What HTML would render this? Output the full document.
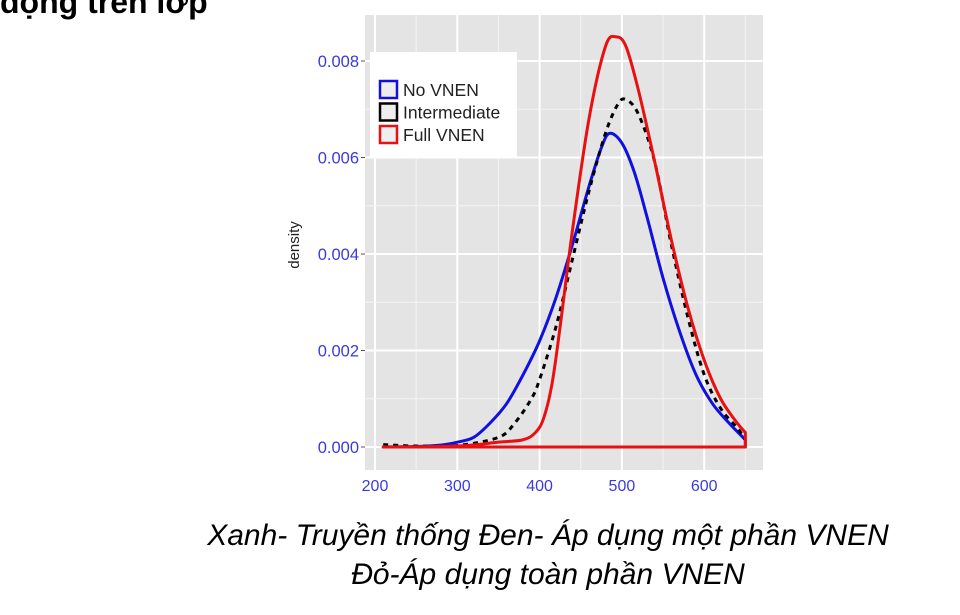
<!DOCTYPE html>
<html><head><meta charset="utf-8">
<style>
body{margin:0;background:#fff;width:960px;height:615px;overflow:hidden;position:relative;font-family:"Liberation Sans",sans-serif}
#title{position:absolute;left:0;top:-16px;font:bold 32px "Liberation Sans",sans-serif;color:#000;white-space:nowrap}
.cap{position:absolute;left:0;width:1096px;text-align:center;font:italic 30px "Liberation Sans",sans-serif;color:#000;white-space:nowrap}
</style></head><body>
<div id="title">động trên lớp</div>
<svg id="chart" width="960" height="615" style="position:absolute;left:0;top:0"></svg>
<div class="cap" style="top:519px">Xanh- Truyền thống Đen- Áp dụng một phần VNEN</div>
<div class="cap" style="top:558px">Đỏ-Áp dụng toàn phần VNEN</div>
<script>
const xTicks=[200,300,400,500,600];
const yTicks=[0,0.002,0.004,0.006,0.008];
const yTickLabels=["0.000","0.002","0.004","0.006","0.008"];
const blueX=[210,250,280,300,320,340,360,380,400,420,440,460,475,485,500,515,530,550,570,590,610,630,650];
const blueY=[0,0.00001,0.00004,0.0001,0.0002,0.0005,0.0009,0.0015,0.0022,0.0031,0.0042,0.0054,0.0062,0.0065,0.0063,0.0057,0.0048,0.0035,0.0024,0.0015,0.0009,0.0005,0.00015];
const blackX=[210,250,300,350,370,390,400,420,440,460,480,495,505,520,540,560,580,600,620,640,650];
const blackY=[0.00005,0.00002,0.00003,0.0002,0.0005,0.001,0.0014,0.0025,0.0039,0.0053,0.0065,0.0071,0.0072,0.0069,0.0059,0.0042,0.0027,0.0015,0.0008,0.0004,0.00015];
const redX=[210,300,350,380,395,405,415,425,440,460,480,493,505,520,540,560,580,600,620,640,650];
const redY=[0,0.00002,0.0001,0.00015,0.0003,0.0006,0.0013,0.0025,0.0045,0.0068,0.0083,0.0085,0.0083,0.0074,0.0059,0.0043,0.0029,0.0018,0.001,0.0005,0.0003];
const legendLabels=["No VNEN","Intermediate","Full VNEN"];
const legendColors=["#1010e0","#000","#e81010"];

const NS="http://www.w3.org/2000/svg";
const svg=document.getElementById('chart');
const X0=365,X1=763,Y0=15,Y1=470;
const xs=v=>375+(v-200)*0.823;
const ys=v=>447-v*48250;
function mk(t,a,p){const e=document.createElementNS(NS,t);for(const k in a)e.setAttribute(k,a[k]);(p||svg).appendChild(e);return e;}
const panel=mk('rect',{x:X0,y:Y0,width:X1-X0,height:Y1-Y0,fill:'#e4e4e4'});


for(let i=0;i<xTicks.length;i++){
  const v=xTicks[i];
  const g=mk('line',{x1:xs(v),x2:xs(v),y1:Y0,y2:Y1,stroke:'#fff','stroke-width':2});
  
  
  const m=mk('line',{x1:xs(v+50),x2:xs(v+50),y1:Y0,y2:Y1,stroke:'#f4f4f4','stroke-width':1});
  
  
  const t=mk('text',{x:xs(v),y:491,'text-anchor':'middle','font-size':16,fill:'#3a3ae0','font-family':'Liberation Sans'});
  t.textContent=v;
  
  
}
for(let i=0;i<yTicks.length;i++){
  const v=yTicks[i];
  const g=mk('line',{x1:X0,x2:X1,y1:ys(v),y2:ys(v),stroke:'#fff','stroke-width':2});
  
  
  if(i<yTicks.length-1){const m=mk('line',{x1:X0,x2:X1,y1:ys(v+0.001),y2:ys(v+0.001),stroke:'#f4f4f4','stroke-width':1});
  
  }
  mk('line',{x1:X0-4,x2:X0,y1:ys(v),y2:ys(v),stroke:'#555','stroke-width':1});
  const t=mk('text',{x:X0-6,y:ys(v)+6,'text-anchor':'end','font-size':16.5,fill:'#3a3ae0','font-family':'Liberation Sans'});
  t.textContent=yTickLabels[i];
  
  
}
const yt=mk('text',{x:299,y:245,'text-anchor':'middle','font-size':15,fill:'#222',transform:'rotate(-90 299 245)','font-family':'Liberation Sans'});
yt.textContent='density';


function spline(P){
  let d='M'+P[0][0]+','+P[0][1];
  for(let i=0;i<P.length-1;i++){
    const p0=P[i-1]||P[i],p1=P[i],p2=P[i+1],p3=P[i+2]||P[i+1];
    const c1=[p1[0]+(p2[0]-p0[0])/6,p1[1]+(p2[1]-p0[1])/6];
    const c2=[p2[0]-(p3[0]-p1[0])/6,p2[1]-(p3[1]-p1[1])/6];
    d+=' C'+c1[0]+','+c1[1]+' '+c2[0]+','+c2[1]+' '+p2[0]+','+p2[1];
  }
  return d;
}
function curve(X,Y,color,dash,closed,name){
  const P=X.map((x,i)=>[xs(x),ys(Y[i])]);
  let d=spline(P);
  if(closed){d+=' L'+xs(X[X.length-1])+','+ys(0)+' L'+xs(X[0])+','+ys(0)+' Z';}
  const e=mk('path',{d:d,fill:'none',stroke:color,'stroke-width':3,'stroke-linejoin':'round'});
  if(dash)e.setAttribute('stroke-dasharray',dash);
  
  
}
curve(blueX,blueY,'#1010e0',null,true,'no-vnen-curve');
curve(blackX,blackY,'#000','5 5',false,'intermediate-curve');
curve(redX,redY,'#e81010',null,true,'full-vnen-curve');
const lg=mk('rect',{x:370,y:52,width:147,height:105,fill:'#fff'});


for(let i=0;i<legendLabels.length;i++){
  const y=81+i*22.5;
  const b=mk('rect',{x:380,y:y,width:17,height:17,fill:'#eee',stroke:legendColors[i],'stroke-width':2.5});
  
  
  const t=mk('text',{x:403,y:y+15,'font-size':17.5,fill:'#222','font-family':'Liberation Sans'});
  t.textContent=legendLabels[i];
  
  
}
</script>
</body></html>
